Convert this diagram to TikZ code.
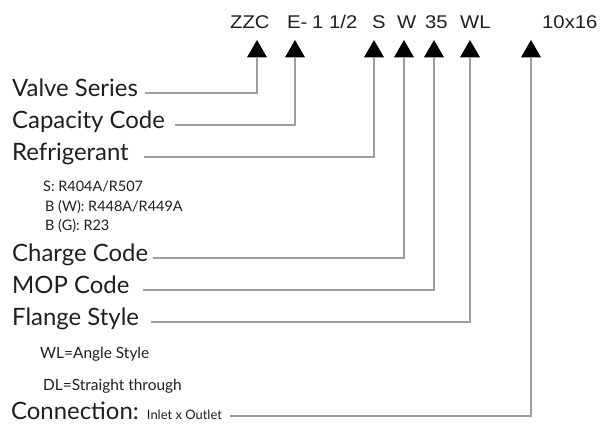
\documentclass[tikz,border=0pt]{standalone}
\usepackage{fontspec}
\setmainfont{Lato}
\newfontfamily\codefont[FakeStretch=1.1]{Liberation Sans}
\usetikzlibrary{shapes.geometric}

\begin{document}
\begin{tikzpicture}[
  x=1bp, y=-1bp,
  lbl/.style={anchor=base west, inner sep=0pt, text height=6bp, text depth=0pt, font=\fontsize{24}{28}\selectfont, text=black!88},
  note/.style={anchor=base west, inner sep=0pt, font=\fontsize{14.5}{16}\selectfont, text=black!88},
  code/.style={anchor=base west, inner sep=0pt, font=\codefont\fontsize{18.5}{20}\selectfont, text=black!88},
  tri/.style={regular polygon, regular polygon sides=3, fill=black, inner sep=0pt, outer sep=0pt, minimum size=23bp},
  conn/.style={draw=black!38, line width=1.1bp}
]
\useasboundingbox (0,0) rectangle (605,423);

% part number
\foreach \n/\x/\t in {czzc/230/ZZC, ce/287/E-, csize/312/{1 1/2}, cs/372/S, cw/397/W, c35/425/35, cwl/460/WL, cconn/542/10x16}
  \node[code] (\n) at (\x,28) {\t};

% pointers
\foreach \n/\x in {azzc/257, ae/295, as/374, aw/404, a35/434, awl/470, aconn/531}
  \node[tri] (\n) at (\x,51.5) {};

% labels
\node[lbl] (valve) at (12,96) {Valve Series};
\node[lbl] (capacity) at (12,128) {Capacity Code};
\node[lbl] (refrig) at (12,160) {Refrigerant};
\node[note] (rs) at (43,191) {S: R404A/R507};
\node[note] (rbw) at (45,211) {B (W): R448A/R449A};
\node[note] (rbg) at (45,230) {B (G): R23};
\node[lbl] (charge) at (12,261) {Charge Code};
\node[lbl] (mop) at (12,293) {MOP Code};
\node[lbl] (flange) at (12,325) {Flange Style};
\node[note, font=\fontsize{15.5}{17}\selectfont] (fwl) at (40,358) {WL=Angle Style};
\node[note, font=\fontsize{15.5}{17}\selectfont] (fdl) at (43,390) {DL=Straight through};
\node[lbl] (connect) at (11,419) {Connection: {\fontsize{13}{15}\selectfont Inlet x Outlet}};

\foreach \l/\a/\g in {valve/azzc/7, capacity/ae/10, refrig/as/15, charge/aw/5, mop/a35/13, flange/awl/12, connect/aconn/8}
  \draw[conn] ([xshift=\g bp]\l.east) -| (\a.south);
\end{tikzpicture}
\end{document}
